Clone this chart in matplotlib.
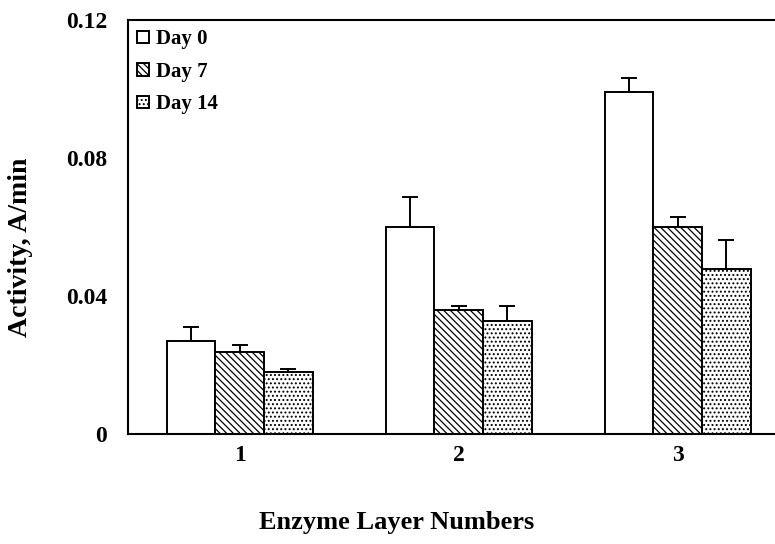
import numpy as np
import matplotlib
matplotlib.use('Agg')
import matplotlib.pyplot as plt

# data
layers = ['1', '2', '3']
series = ['Day 0', 'Day 7', 'Day 14']
day0 = [0.0270, 0.0599, 0.0990]
day7 = [0.0237, 0.0360, 0.0600]
day14 = [0.0180, 0.0328, 0.0478]
err0 = [0.0041, 0.0088, 0.0041]
err7 = [0.0022, 0.0012, 0.0029]
err14 = [0.0007, 0.0043, 0.0085]

plt.rcParams['font.family'] = ['Liberation Serif', 'DejaVu Serif']
plt.rcParams['font.weight'] = 'bold'
plt.rcParams['hatch.linewidth'] = 0.9

fig = plt.figure(figsize=(7.75, 5.44), dpi=100)
ax = fig.add_axes([128/775, 1-434/544, 1-128/775+0.01, (434-20)/544])

x = np.arange(1, len(layers)+1)
w = 0.222
vals = [day0, day7, day14]
errs = [err0, err7, err14]
hatches = ['', '\\\\\\\\\\', '....']
for i in range(3):
    ax.bar(x + (i-1)*w, vals[i], w, color='white', edgecolor='black', linewidth=1.4,
           hatch=hatches[i], label=series[i],
           yerr=[np.zeros(3), errs[i]], error_kw=dict(ecolor='black', elinewidth=1.4, capsize=6, capthick=1.4))

ax.set_ylim(0, 0.12)
ax.set_xlim(0.49, 3.48)
ax.set_yticks([0, 0.04, 0.08, 0.12])
ax.set_yticklabels(['0', '0.04', '0.08', '0.12'])
ax.set_xticks(x)
ax.set_xticklabels(layers)
ax.tick_params(length=0, labelsize=17)
ax.tick_params(axis='x', pad=8)
ax.tick_params(axis='y', pad=15)
for s in ax.spines.values():
    s.set_linewidth(1.5)

ax.set_xlabel('Enzyme Layer Numbers', fontsize=19, fontweight='bold')
ax.xaxis.set_label_coords(0.411, -0.185)
ax.set_ylabel('Activity, A/min', fontsize=20, fontweight='bold')
ax.yaxis.set_label_coords(-0.145, 0.45)

leg = ax.legend(loc='upper left', fontsize=15, frameon=False, handlelength=0.55, handleheight=0.55,
                handletextpad=0.35, labelspacing=0.6, borderaxespad=0.1, borderpad=0.35)

fig.savefig('out.png', dpi=100)
